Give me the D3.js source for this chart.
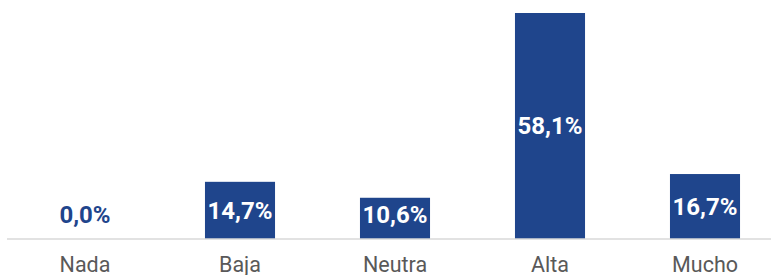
<!DOCTYPE html>
<html>
<head>
<meta charset="utf-8">
<script src="https://cdn.jsdelivr.net/npm/d3@7"></script>
<style>
  html, body { margin: 0; padding: 0; background: #fff; }
  svg { display: block; font-family: Roboto, "Noto Sans", sans-serif; }
</style>
</head>
<body>
<svg id="chart"></svg>
<script>
// chart size
const width = 771;
const height = 275;

// data
const categories = ["Nada", "Baja", "Neutra", "Alta", "Mucho"];
const values = [0.0, 14.7, 10.6, 58.1, 16.7];

const barColor = "#1f458c";

// comma decimal, like the original labels
const locale = d3.formatLocale({ decimal: ",", thousands: ".", grouping: [3], currency: ["", "€"] });
const fmt = locale.format(".1f");

const svg = d3.select("#chart")
    .attr("width", width)
    .attr("height", height);

const baseY = 239;

const x = d3.scaleBand()
    .domain(categories)
    .range([7.5, 782.5])
    .paddingInner(0.548)
    .paddingOuter(0.274);

const y = d3.scaleLinear()
    .domain([0, d3.max(values)])
    .range([baseY, 13]);

const data = categories.map((c, i) => ({ cat: c, val: values[i] }));

// bars
svg.selectAll("rect.bar")
    .data(data)
    .join("rect")
    .attr("class", "bar")
    .attr("x", d => x(d.cat))
    .attr("y", d => y(d.val))
    .attr("width", x.bandwidth())
    .attr("height", d => y(0) - y(d.val))
    .attr("fill", barColor);

// baseline
svg.append("line")
    .attr("x1", 7)
    .attr("x2", width)
    .attr("y1", baseY)
    .attr("y2", baseY)
    .attr("stroke", "#d9d9d9")
    .attr("stroke-width", 1.5);

// category labels
const xAxis = svg.append("g")
    .attr("transform", `translate(0,${baseY})`)
    .call(d3.axisBottom(x).tickSize(0).tickPadding(17.5));
xAxis.select(".domain").remove();
xAxis.selectAll("text")
    .attr("font-family", "Roboto, sans-serif")
    .attr("font-size", 21.5)
    .attr("fill", "#595959");

// value labels, centred in the bar but kept clear of the baseline
svg.selectAll("text.val")
    .data(data)
    .join("text")
    .attr("class", "val")
    .attr("x", d => x(d.cat) + x.bandwidth() / 2)
    .attr("y", d => Math.min((y(d.val) + y(0)) / 2, baseY - 24.5))
    .attr("dy", "0.35em")
    .attr("text-anchor", "middle")
    .attr("font-size", 24)
    .attr("font-weight", "bold")
    .attr("fill", d => d.val > 0 ? "#fff" : barColor)
    .text(d => fmt(d.val) + "%");
</script>
</body>
</html>
